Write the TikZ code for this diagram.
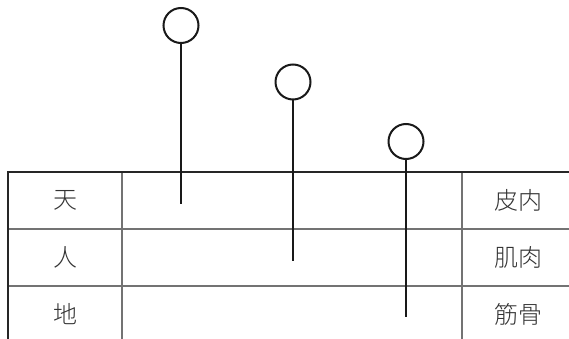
\documentclass[tikz,border=0pt]{standalone}
\usepackage{fontspec}
\newfontfamily\cjk{Noto Sans CJK SC Light}
\begin{document}
\begin{tikzpicture}[x=1pt,y=-1pt,
  frame/.style={line width=2pt,draw=black!85},
  grid/.style={line width=1.2pt,draw=black!55},
  stem/.style={line width=2.5pt,draw=black!90},
  knob/.style={circle,draw=black!90,line width=2pt,minimum size=35pt,inner sep=0pt},
  lbl/.style={font=\cjk\fontsize{24}{26}\selectfont,text=black!80,inner sep=0pt}]
\useasboundingbox (0,0) rectangle (569,339);
% table rules
\draw[grid] (8,229) -- (569,229);
\draw[grid] (8,286) -- (569,286);
\draw[grid] (122,172) -- (122,339);
\draw[grid] (462,172) -- (462,339);
\draw[frame] (569,172) -- (8,172) -- (8,339);
% row labels
\node[lbl] (tian) at (65.5,200) {天};
\node[lbl] (ren) at (65.5,257) {人};
\node[lbl] (di) at (65.5,314) {地};
\node[lbl] (pinei) at (518,200) {皮内};
\node[lbl] (jirou) at (518,257) {肌肉};
\node[lbl] (jingu) at (518,314) {筋骨};
% needles
\node[knob] (k1) at (181,25.5) {};
\node[knob] (k2) at (293,82) {};
\node[knob] (k3) at (406,141.5) {};
\coordinate (e1) at (181,204);
\coordinate (e2) at (293,261);
\coordinate (e3) at (406,317);
\draw[stem] (k1.south) -- (e1);
\draw[stem] (k2.south) -- (e2);
\draw[stem] (k3.south) -- (e3);
\end{tikzpicture}
\end{document}
